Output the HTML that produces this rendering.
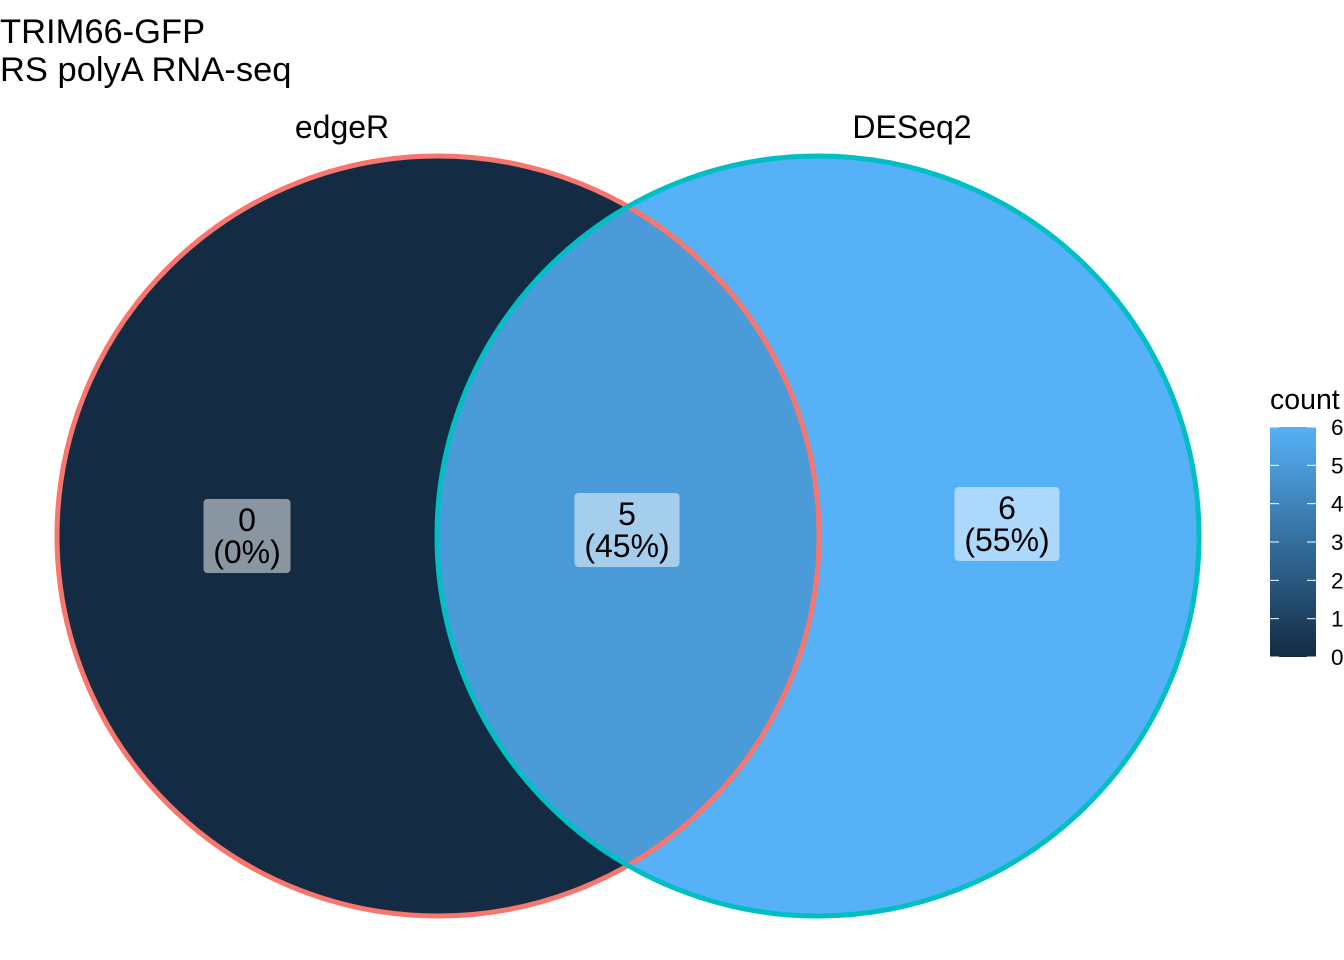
<!DOCTYPE html>
<html><head><meta charset="utf-8"><style>
html,body{margin:0;padding:0;background:#fff;}
svg{display:block;font-family:"Liberation Sans",Arial,sans-serif;}
</style></head><body>
<svg id="chart" width="1344" height="960" viewBox="0 0 1344 960">
<defs><linearGradient id="cg" x1="0" y1="1" x2="0" y2="0">
<stop offset="0" stop-color="#132B43"/><stop offset="1" stop-color="#56B1F7"/></linearGradient></defs>
<text x="0" y="43" font-size="34.5" fill="#000">TRIM66-GFP</text>
<text x="0" y="81" font-size="34.5" fill="#000">RS polyA RNA-seq</text>
<g id="regions"></g>
<g id="outlines"></g>
<g id="labels"></g>
<g id="legend"></g>
</svg>
<script>
const setNames = ["edgeR", "DESeq2"];
const regionNames = ["edgeR-only", "both", "DESeq2-only"];
const regionCounts = [0, 5, 6];
const legendTicks = [0, 1, 2, 3, 4, 5, 6];

const NS = "http://www.w3.org/2000/svg";
function mk(tag, attrs, parent){const e=document.createElementNS(NS,tag);for(const k in attrs)e.setAttribute(k,attrs[k]);parent.appendChild(e);return e;}
const cmin=0, cmax=Math.max(...legendTicks);
const lo=[19,43,67], hi=[86,177,247];
function col(v){const t=(v-cmin)/(cmax-cmin);const c=lo.map((a,i)=>Math.round(a+(hi[i]-a)*t));return `rgb(${c[0]},${c[1]},${c[2]})`;}
const total = regionCounts.reduce((a,b)=>a+b,0);

const L={cx:438,cy:536,rx:381,ry:380}, R={cx:818,cy:536,rx:381,ry:380};
const reg=document.getElementById("regions");
mk("clipPath",{id:"clipL"},reg);
mk("ellipse",{cx:L.cx,cy:L.cy,rx:L.rx,ry:L.ry},reg.lastChild);
let e=mk("ellipse",{cx:L.cx,cy:L.cy,rx:L.rx,ry:L.ry,fill:col(regionCounts[0])},reg);


e=mk("ellipse",{cx:R.cx,cy:R.cy,rx:R.rx,ry:R.ry,fill:col(regionCounts[2])},reg);


e=mk("ellipse",{cx:R.cx,cy:R.cy,rx:R.rx,ry:R.ry,fill:col(regionCounts[1]),"clip-path":"url(#clipL)"},reg);



const out=document.getElementById("outlines");
e=mk("ellipse",{cx:L.cx,cy:L.cy,rx:L.rx,ry:L.ry,fill:"none",stroke:"#F8766D","stroke-width":5},out);


e=mk("ellipse",{cx:R.cx,cy:R.cy,rx:R.rx,ry:R.ry,fill:"none",stroke:"#00BFC4","stroke-width":5},out);



const lab=document.getElementById("labels");
const setLabelPos=[[342,138],[912,138]];
setNames.forEach((n,i)=>{const t=mk("text",{x:setLabelPos[i][0],y:setLabelPos[i][1],"font-size":32,"text-anchor":"middle",fill:"#000"},lab);t.textContent=n;

});

const boxCenters=[[247,536],[627,530],[1007,524]];
regionCounts.forEach((c,i)=>{
 const [x,y]=boxCenters[i];
 const g=mk("g",{},lab);
 
 
 const pct=Math.round(c/total*100)+"%";
 const w=i==0?87:105;
 mk("rect",{x:x-w/2,y:y-37,width:w,height:74,rx:4,fill:"#fff","fill-opacity":0.5},g);
 let t=mk("text",{x:x,y:y-5,"font-size":32,"text-anchor":"middle",fill:"#000"},g);t.textContent=c;
 t=mk("text",{x:x,y:y+27,"font-size":32,"text-anchor":"middle",fill:"#000"},g);t.textContent="("+pct+")";
});

const leg=document.getElementById("legend");
const bx=1270,bw=46,by0=657,by1=427;
const ys=v=>by0+(by1-by0)*(v-cmin)/(cmax-cmin);
let t=mk("text",{x:1270,y:409,"font-size":28.5,fill:"#000"},leg);t.textContent="count";


e=mk("rect",{x:bx,y:by1,width:bw,height:by0-by1,fill:"url(#cg)"},leg);


legendTicks.forEach(v=>{const y=ys(v);
 mk("line",{x1:bx,x2:bx+9,y1:y,y2:y,stroke:"#fff","stroke-width":1},leg);
 mk("line",{x1:bx+bw-9,x2:bx+bw,y1:y,y2:y,stroke:"#fff","stroke-width":1},leg);
 const tt=mk("text",{x:1331,y:y+8,"font-size":22.5,fill:"#000"},leg);tt.textContent=v;
 
 
});
</script>
</body></html>
